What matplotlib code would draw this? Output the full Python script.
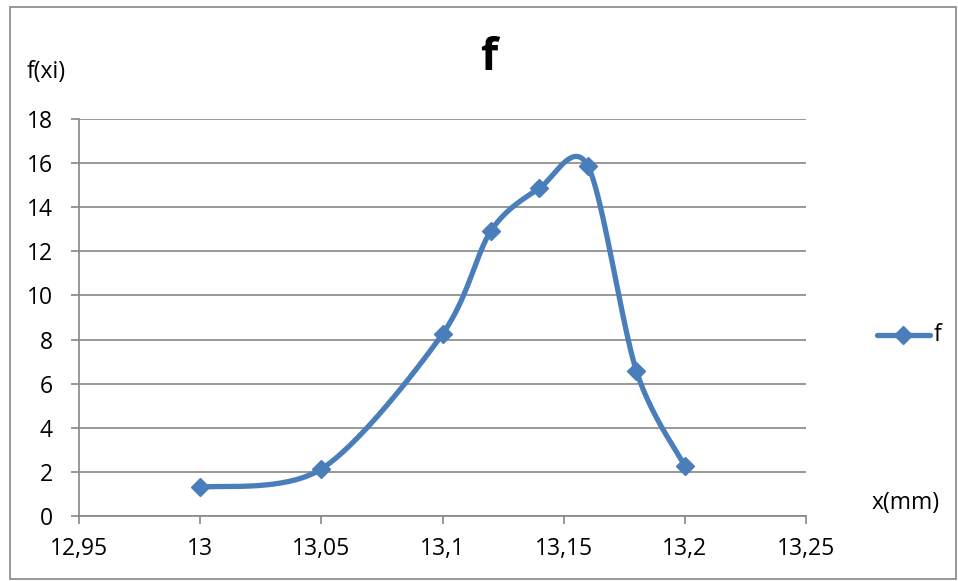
import numpy as np
import matplotlib
matplotlib.use("Agg")
import matplotlib.pyplot as plt
from matplotlib.patches import Rectangle
from matplotlib.lines import Line2D

x_vals = [13.0, 13.05, 13.1, 13.12, 13.14, 13.16, 13.18, 13.2]
f_vals = [1.3, 2.13, 8.25, 12.93, 14.86, 15.87, 6.58, 2.27]
x_ticks = [12.95, 13.0, 13.05, 13.1, 13.15, 13.2, 13.25]
x_tick_labels = ["12,95", "13", "13,05", "13,1", "13,15", "13,2", "13,25"]
y_ticks = [0, 2, 4, 6, 8, 10, 12, 14, 16, 18]

plt.rcParams['font.family'] = ['Open Sans', 'DejaVu Sans']

W, H = 958, 581
fig = plt.figure(figsize=(W / 100, H / 100), dpi=100)
fig.patch.set_facecolor('white')

# outer chart border
fig.add_artist(Rectangle((10 / W, 2 / H), (W - 12) / W, (H - 9) / H, transform=fig.transFigure,
                         fill=False, edgecolor='#868686', linewidth=1.2))

L, R, T, B = 79, 806, 119, 516
ax = fig.add_axes([L / W, (H - B) / H, (R - L) / W, (B - T) / H])

# Excel-like smoothing (Catmull-Rom Bezier)
def smooth(xs, ys, n=40, k=6.6):
    P = np.column_stack([xs, ys]).astype(float)
    P_ext = np.vstack([P[0], P, P[-1]])
    out = []
    for i in range(1, len(P_ext) - 2):
        p0, p1, p2, p3 = P_ext[i - 1], P_ext[i], P_ext[i + 1], P_ext[i + 2]
        c1 = p1 + (p2 - p0) / k
        c2 = p2 - (p3 - p1) / k
        t = np.linspace(0, 1, n)[:, None]
        seg = ((1 - t) ** 3) * p1 + 3 * ((1 - t) ** 2) * t * c1 + 3 * (1 - t) * t ** 2 * c2 + t ** 3 * p2
        out.append(seg if i == 1 else seg[1:])
    return np.vstack(out)

color = '#4A7EBB'
cur = smooth(x_vals, f_vals)
ax.plot(cur[:, 0], cur[:, 1], color=color, linewidth=3.8, solid_capstyle='round', zorder=3)
ax.plot(x_vals, f_vals, linestyle='none', marker='D', markersize=9.5, color=color, zorder=4)

ax.set_xlim(12.95, 13.25)
ax.set_ylim(0, 18)
ax.set_xticks(x_ticks)
ax.set_xticklabels(x_tick_labels)
ax.set_yticks(y_ticks)
ax.grid(axis='y', color='#868686', linewidth=1.2)
ax.set_axisbelow(True)
for s in ['top', 'right']:
    ax.spines[s].set_visible(False)
for s in ['left', 'bottom']:
    ax.spines[s].set_color('#868686')
    ax.spines[s].set_linewidth(1.2)
ax.tick_params(axis='both', colors='#868686', labelcolor='black', labelsize=16.5,
               length=6, width=1.2, direction='out')
ax.tick_params(axis='y', pad=13)
ax.tick_params(axis='x', pad=9)

fig.text(489 / W, 1 - 58 / H, "f", ha='center', va='center', fontsize=32, fontweight='bold')
fig.text(27 / W, 1 - 72 / H, "f(xi)", ha='left', va='center', fontsize=16.5)
fig.text(872 / W, 1 - 503 / H, "x(mm)", ha='left', va='center', fontsize=16.5)

# legend
ly = 1 - 335 / H
fig.add_artist(Line2D([877 / W, 930 / W], [ly, ly], transform=fig.transFigure, color=color,
                      linewidth=3.8, solid_capstyle='round'))
fig.add_artist(Line2D([903 / W], [ly], transform=fig.transFigure, color=color, marker='D',
                      markersize=9.5, linestyle='none'))
fig.text(934 / W, ly, "f", ha='left', va='center', fontsize=16.5)

fig.savefig("out.png", dpi=100, facecolor='white')
